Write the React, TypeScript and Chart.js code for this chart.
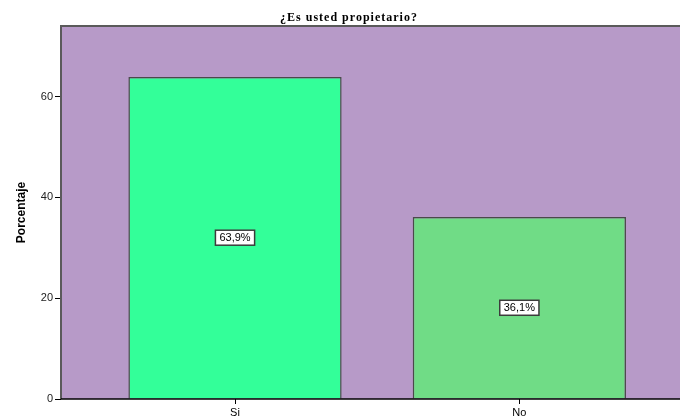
import React, { useEffect, useRef } from "react";
import { Chart, registerables } from "chart.js";

Chart.register(...registerables);

const categories: string[] = ["Si", "No"];
const values: number[] = [63.9, 36.1];
const valueLabels: string[] = ["63,9%", "36,1%"];
const barColors: string[] = ["#33FF99", "#70DC86"];
const yTicks: number[] = [0, 20, 40, 60];
const chartTitle = "¿Es usted propietario?";
const yTitle = "Porcentaje";

const decorPlugin = {
  id: "decor",
  beforeDraw(chart: any) {
    const { ctx, chartArea } = chart;
    const { left, top, right, bottom } = chartArea;
    ctx.save();
    ctx.fillStyle = "#B79AC8";
    ctx.fillRect(left, top, right - left, bottom - top);
    ctx.restore();
  },
  afterDatasetsDraw(chart: any) {
    const { ctx, chartArea } = chart;
    const { left, top, right, bottom } = chartArea;
    ctx.save();
    // frame
    ctx.strokeStyle = "#5a5a5a";
    ctx.lineWidth = 2;
    ctx.beginPath();
    ctx.moveTo(left, bottom);
    ctx.lineTo(left, top);
    ctx.lineTo(right, top);
    ctx.stroke();
    ctx.strokeStyle = "#000";
    ctx.lineWidth = 1.5;
    ctx.beginPath();
    ctx.moveTo(left, bottom);
    ctx.lineTo(right, bottom);
    ctx.stroke();

    // x tick marks
    const xs = chart.scales.x;
    ctx.strokeStyle = "#000";
    ctx.lineWidth = 1;
    categories.forEach((_, i) => {
      const px = Math.round(xs.getPixelForValue(i)) + 0.5;
      ctx.beginPath();
      ctx.moveTo(px, bottom);
      ctx.lineTo(px, bottom + 5);
      ctx.stroke();
    });

    // value labels
    const meta = chart.getDatasetMeta(0);
    ctx.font = "11px 'Liberation Sans', Arial, sans-serif";
    ctx.textAlign = "center";
    ctx.textBaseline = "middle";
    meta.data.forEach((bar: any, i: number) => {
      const x = bar.x;
      const y = (bar.y + bar.base) / 2;
      const w = ctx.measureText(valueLabels[i]).width + 8;
      const h = 15;
      ctx.fillStyle = "#fff";
      ctx.fillRect(x - w / 2, y - h / 2, w, h);
      ctx.strokeStyle = "#3c3c3c";
      ctx.lineWidth = 1.5;
      ctx.strokeRect(x - w / 2, y - h / 2, w, h);
      ctx.fillStyle = "#000";
      ctx.fillText(valueLabels[i], x, y + 0.5);
    });

    // title
    ctx.font = "bold 12px 'Liberation Serif', 'Times New Roman', serif";
    (ctx as any).letterSpacing = "1px";
    ctx.fillStyle = "#000";
    ctx.textAlign = "center";
    ctx.textBaseline = "alphabetic";
    ctx.fillText(chartTitle, 349, 21);
    (ctx as any).letterSpacing = "0px";

    // y title
    ctx.translate(22, (top + bottom) / 2);
    ctx.rotate(-Math.PI / 2);
    ctx.font = "bold 12px 'Liberation Sans', Arial, sans-serif";
    ctx.textBaseline = "middle";
    ctx.fillText(yTitle, 0, 0);
    ctx.restore();
  },
};

export default function App() {
  const ref = useRef<HTMLCanvasElement>(null);
  useEffect(() => {
    if (!ref.current) return;
    const chart = new Chart(ref.current, {
      type: "bar",
      data: {
        datasets: [
          {
            data: categories.map((c, i) => ({ x: i, y: values[i] })),
            backgroundColor: barColors,
            borderColor: "#4a4a4a",
            borderWidth: 1.5,
            barPercentage: 0.75,
            categoryPercentage: 1,
          },
        ],
      },
      options: {
        responsive: false,
        animation: false,
        devicePixelRatio: 1,
        layout: { padding: { top: 26, left: 0, right: 0, bottom: 0 } },
        plugins: {
          legend: { display: false },
          tooltip: { enabled: false },
          title: { display: false },
        },
        scales: {
          x: {
            type: "linear",
            offset: false,
            min: -0.612,
            max: 1.565,
            afterBuildTicks: (scale: any) => {
              scale.ticks = categories.map((_, i) => ({ value: i }));
            },
            afterFit: (scale: any) => {
              scale.height = 18;
            },
            grid: {
              offset: false,
              display: true,
              drawOnChartArea: false,
              drawTicks: true,
              tickLength: 5,
              color: "rgba(0,0,0,0)",
            },
            border: { display: false },
            ticks: {
              autoSkip: false,
              maxRotation: 0,
              padding: 2,
              color: "#000",
              font: { family: "'Liberation Sans', Arial, sans-serif", size: 11 },
              callback: (v: any) => categories[Math.round(Number(v))] ?? "",
            },
          },
          y: {
            min: 0,
            max: 74,
            afterBuildTicks: (scale: any) => {
              scale.ticks = yTicks.map((v) => ({ value: v }));
            },
            afterFit: (scale: any) => {
              scale.width = 61;
            },
            grid: {
              drawOnChartArea: false,
              drawTicks: true,
              tickLength: 6,
              color: "#000",
              lineWidth: 1,
            },
            border: { display: false },
            ticks: {
              padding: 2,
              color: "#222",
              font: { family: "'Liberation Sans', Arial, sans-serif", size: 11 },
            },
          },
        },
      },
      plugins: [decorPlugin],
    } as any);
    return () => chart.destroy();
  }, []);
  return (
    <div style={{ position: "absolute", left: 0, top: 0, width: 680, height: 417, background: "#fff" }}>
      <canvas ref={ref} width={680} height={417} style={{ width: 680, height: 417, display: "block" }} />
    </div>
  );
}
